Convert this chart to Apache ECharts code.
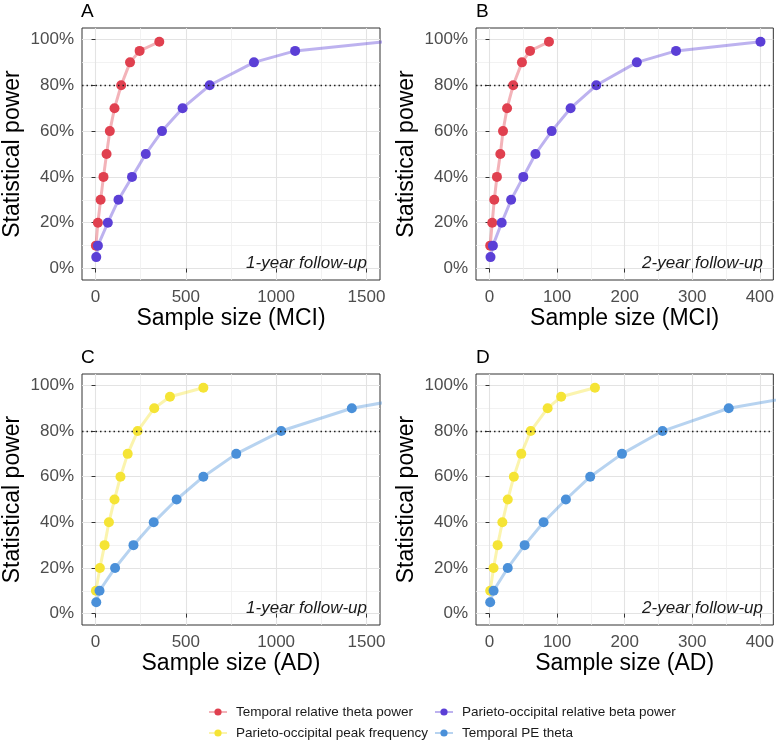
<!DOCTYPE html>
<html>
<head>
<meta charset="utf-8">
<script src="https://cdn.jsdelivr.net/npm/echarts@6/dist/echarts.min.js"></script>
<style>
html,body{margin:0;padding:0;background:#fff;}
#chart{width:777px;height:742px;}
</style>
</head>
<body>
<div id="chart"></div>
<script>
// ---- data ----
const powerA = [10, 20, 30, 40, 50, 60, 70, 80, 90, 95, 99];
const powerB = [5, 10, 20, 30, 40, 50, 60, 70, 80, 90, 95, 99];
const powerBlue = [5, 10, 20, 30, 40, 50, 60, 70, 80, 90, 95];

const mci1_theta = [2, 13, 28, 44, 61, 79, 105, 142, 191, 244, 353];
const mci1_beta = [4, 13, 68, 127, 202, 278, 368, 482, 632, 877, 1105, 1600];
const mci2_theta = [1, 4, 7, 11, 16, 20, 26, 35, 48, 60, 88];
const mci2_beta = [1.5, 5, 18, 32, 50, 68, 92, 120, 158, 218, 276, 401];
const ad1_peak = [2, 24, 50, 74, 105, 138, 178, 233, 325, 412, 597];
const ad1_pe = [4, 22, 108, 210, 322, 449, 597, 779, 1028, 1419, 1774];
const ad2_peak = [1, 6, 12, 19, 27, 36, 47, 61, 86, 106, 156];
const ad2_pe = [1, 6, 27, 52, 80, 113, 149, 196, 256, 354, 451];

const seriesNames = ['Temporal relative theta power', 'Parieto-occipital relative beta power',
                     'Parieto-occipital peak frequency', 'Temporal PE theta'];
const colors = ['#E0404F', '#5B3FD6', '#F5E435', '#4A90D9'];

const yMajor = [0, 20, 40, 60, 80, 100];
const yMinor = [10, 30, 50, 70, 90];
const xMajorWide = [0, 500, 1000, 1500];
const xMinorWide = [250, 750, 1250];
const xMajorNarrow = [0, 100, 200, 300, 400];
const xMinorNarrow = [50, 150, 250, 350];

const panelLetters = ['A', 'B', 'C', 'D'];
const xTitles = ['Sample size (MCI)', 'Sample size (MCI)', 'Sample size (AD)', 'Sample size (AD)'];
const followUp = ['1-year follow-up', '2-year follow-up', '1-year follow-up', '2-year follow-up'];

// ---- layout ----
const FONT = 'Liberation Sans, Arial, sans-serif';
const grids = [
  {left: 81, top: 28, width: 299, height: 252},
  {left: 476, top: 28, width: 300, height: 252},
  {left: 81, top: 374, width: 299, height: 251},
  {left: 476, top: 374, width: 300, height: 251}
];
const xRanges = [[-75, 1575], [-20, 420], [-75, 1575], [-20, 420]];
const xMaj = [xMajorWide, xMajorNarrow, xMajorWide, xMajorNarrow];
const xMin = [xMinorWide, xMinorNarrow, xMinorWide, xMinorNarrow];

const panelData = [
  [{name: seriesNames[0], c: 0, x: mci1_theta, y: powerA}, {name: seriesNames[1], c: 1, x: mci1_beta, y: powerB}],
  [{name: seriesNames[0], c: 0, x: mci2_theta, y: powerA}, {name: seriesNames[1], c: 1, x: mci2_beta, y: powerB}],
  [{name: seriesNames[2], c: 2, x: ad1_peak, y: powerA}, {name: seriesNames[3], c: 3, x: ad1_pe, y: powerBlue}],
  [{name: seriesNames[2], c: 2, x: ad2_peak, y: powerA}, {name: seriesNames[3], c: 3, x: ad2_pe, y: powerBlue}]
];

const xAxes = [], yAxes = [], series = [], gridOpts = [], titles = [], graphics = [];
grids.forEach((g, i) => {
  gridOpts.push(Object.assign({show: true, borderColor: '#333333', borderWidth: 1, containLabel: false}, g));
  xAxes.push({
    type: 'value', gridIndex: i, min: xRanges[i][0], max: xRanges[i][1],
    name: xTitles[i], nameLocation: 'middle', nameGap: 27,
    nameTextStyle: {fontSize: 23, color: '#000', fontFamily: FONT},
    axisLine: {show: false},
    axisTick: {show: true, length: 4, customValues: xMaj[i], lineStyle: {color: '#333', width: 1}},
    axisLabel: {customValues: xMaj[i], formatter: v => String(v), fontSize: 17, color: '#4d4d4d', margin: 9, fontFamily: FONT},
    splitLine: {show: true, lineStyle: {color: '#e3e3e3', width: 1.1}}
  });
  xAxes.push({
    type: 'value', gridIndex: i, min: xRanges[i][0], max: xRanges[i][1], position: 'bottom',
    axisLine: {show: false},
    axisTick: {show: false, customValues: xMin[i]},
    axisLabel: {show: false, customValues: xMin[i]},
    splitLine: {show: true, lineStyle: {color: '#efefef', width: 0.8}}
  });
  yAxes.push({
    type: 'value', gridIndex: i, min: -5, max: 105,
    name: 'Statistical power', nameLocation: 'middle', nameGap: 58,
    nameTextStyle: {fontSize: 23, color: '#000', fontFamily: FONT},
    axisLine: {show: false},
    axisTick: {show: true, length: 4, customValues: yMajor, lineStyle: {color: '#333', width: 1}},
    axisLabel: {customValues: yMajor, formatter: '{value}%', fontSize: 17, color: '#4d4d4d', margin: 8, fontFamily: FONT},
    splitLine: {show: true, lineStyle: {color: '#e3e3e3', width: 1.1}}
  });
  yAxes.push({
    type: 'value', gridIndex: i, min: -5, max: 105, position: 'left',
    axisLine: {show: false},
    axisTick: {show: false, customValues: yMinor},
    axisLabel: {show: false, customValues: yMinor},
    splitLine: {show: true, lineStyle: {color: '#efefef', width: 0.8}}
  });

  panelData[i].forEach((s, k) => {
    const col = colors[s.c];
    const ser = {
      type: 'line', name: s.name,
      xAxisIndex: 2 * i, yAxisIndex: 2 * i,
      data: s.x.map((v, j) => [v, s.y[j]]),
      symbol: 'circle', symbolSize: 10, showSymbol: true,
      itemStyle: {color: col, opacity: 1},
      lineStyle: {color: col, width: 3, opacity: 0.4},
      clip: true, animation: false, z: 3 + k
    };
    if (k === 0) {
      ser.markLine = {
        silent: true, symbol: ['none', 'none'], animation: false,
        label: {show: false},
        lineStyle: {type: [1.5, 3], color: '#222', width: 1.3, opacity: 1},
        emphasis: {disabled: true},
        data: [{yAxis: 80}]
      };
    }
    series.push(ser);
  });

  titles.push({
    text: panelLetters[i], left: g.left, top: g.top - 26, padding: 0,
    textStyle: {fontSize: 19, fontWeight: 'normal', color: '#000', fontFamily: FONT}
  });
  graphics.push({
    type: 'text', right: 777 - (g.left + g.width) + 13, top: g.top + g.height - 25, z: 100,
    style: {text: followUp[i], font: 'italic 17px ' + FONT, fill: '#1a1a1a'}
  });
});

const legendBase = {
  orient: 'horizontal', itemWidth: 18, itemHeight: 9, padding: 0,
  textStyle: {fontSize: 13.5, color: '#1a1a1a', fontFamily: FONT, padding: [0, 0, 0, 4]},
  selectedMode: false
};
const legendPos = [[208, 705], [434, 705], [208, 726], [434, 726]];
const legendOrder = [0, 1, 2, 3];
const legends = legendOrder.map((si, n) => Object.assign({left: legendPos[n][0], top: legendPos[n][1], data: [seriesNames[si]]}, legendBase));

const chart = echarts.init(document.getElementById('chart'), null, {renderer: 'canvas'});
chart.setOption({
  animation: false,
  backgroundColor: '#ffffff',
  textStyle: {fontFamily: FONT},
  title: titles,
  grid: gridOpts,
  xAxis: xAxes,
  yAxis: yAxes,
  series: series,
  graphic: graphics,
  legend: legends
});
</script>
</body>
</html>
